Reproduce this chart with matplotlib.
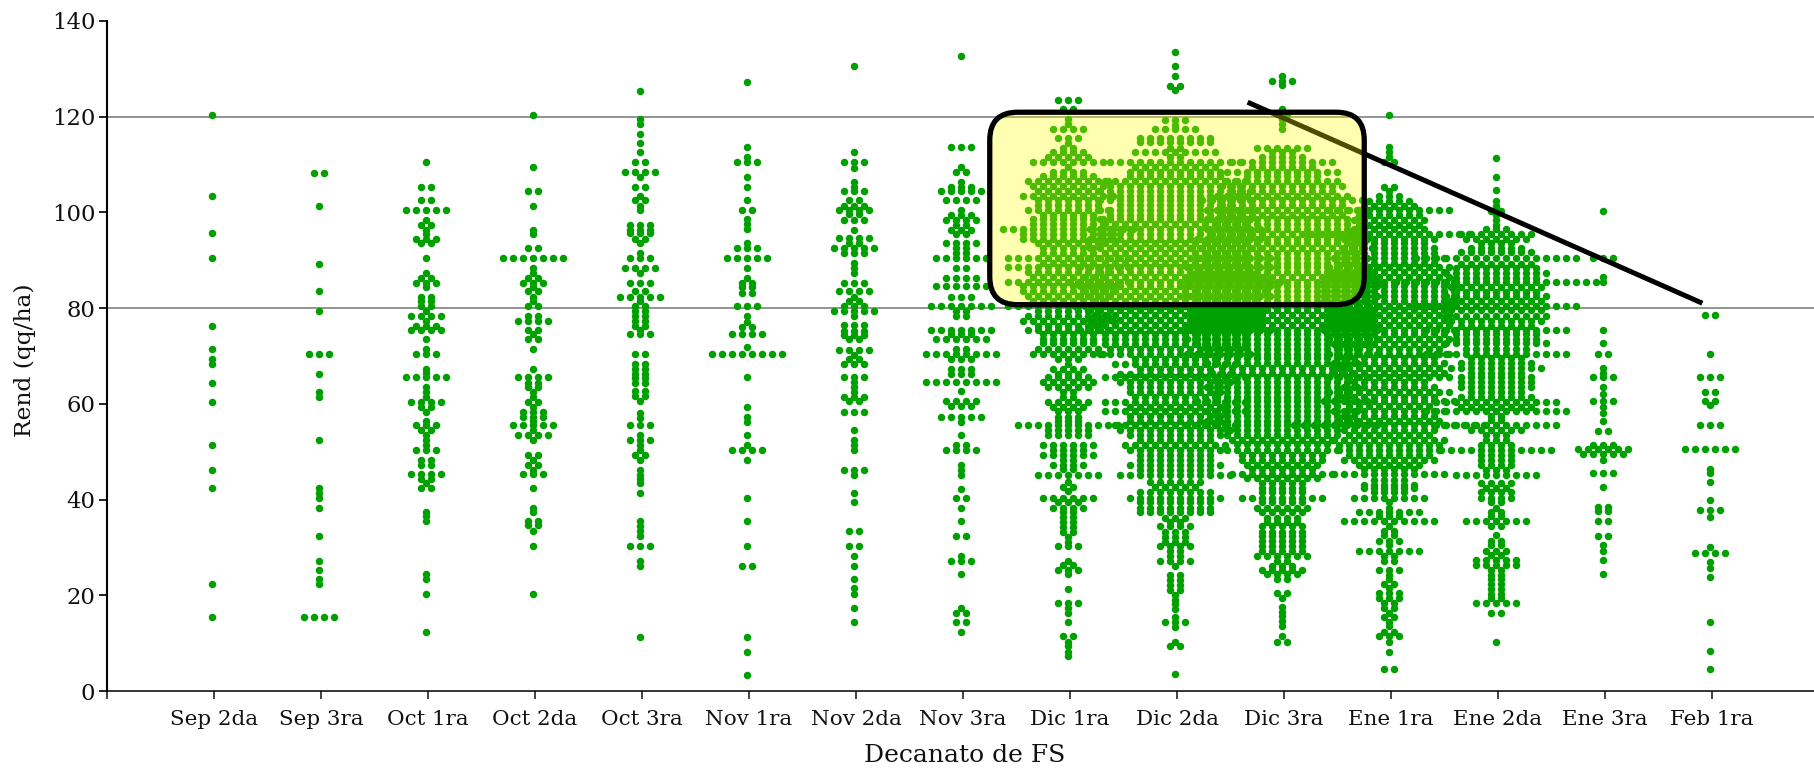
import matplotlib
matplotlib.use('Agg')
import matplotlib.pyplot as plt
from matplotlib.patches import FancyBboxPatch
import numpy as np

categories = ['Sep 2da', 'Sep 3ra', 'Oct 1ra', 'Oct 2da', 'Oct 3ra', 'Nov 1ra', 'Nov 2da', 'Nov 3ra',
              'Dic 1ra', 'Dic 2da', 'Dic 3ra', 'Ene 1ra', 'Ene 2da', 'Ene 3ra', 'Feb 1ra']
y_ticks = [0, 20, 40, 60, 80, 100, 120, 140]
grid_values = [80, 120]

# each decanato: yield rows and how many plots fall in each row
sep2_y = [120.4, 103.5, 95.6, 90.4, 76.3, 71.4, 69.4, 68.3, 64.4, 60.3, 51.4, 46.1, 42.4, 22.4, 15.4]
sep2_n = [1] * 15
sep3_y = [108.3, 101.4, 89.3, 83.5, 79.3, 70.4, 66.2, 62.5, 61.5, 52.4, 42.4, 41.4, 40.3, 38.2, 32.4, 27.2, 25.2, 23.3, 22.4, 15.4]
sep3_n = [2, 1, 1, 1, 1, 3, 1, 1, 1, 1, 1, 1, 1, 1, 1, 1, 1, 1, 1, 4]
oct1_y = [110.4, 105.3, 102.5, 100.4, 98.3, 97.3, 96.3, 95.5, 94.5, 93.5, 90.4, 87.4, 86.3, 85.3, 84.3, 82.4, 81.5, 80.5, 79.4, 78.3, 77.3, 76.3, 75.5, 73.5, 71.4, 70.4, 67.3, 66.5, 65.5, 63.4, 62.4, 61.4, 60.3, 59.3, 58.3, 56.5, 55.5, 54.5, 53.4, 52.4, 51.4, 50.4, 48.3, 47.3, 45.3, 44.3, 43.4, 42.4, 37.3, 36.5, 35.5, 24.5, 23.3, 20.3, 12.4]
oct1_n = [1, 2, 2, 5, 1, 2, 1, 1, 3, 2, 1, 1, 2, 3, 1, 2, 2, 2, 1, 4, 1, 3, 4, 1, 1, 3, 1, 1, 5, 1, 1, 1, 4, 2, 1, 1, 3, 2, 1, 1, 1, 3, 2, 2, 4, 2, 1, 2, 1, 1, 1, 1, 1, 1, 1]
oct2_y = [120.4, 109.4, 104.5, 101.4, 96.3, 95.5, 92.5, 90.4, 88.4, 87.4, 86.3, 85.3, 84.3, 83.5, 82.4, 81.5, 80.5, 78.3, 77.3, 75.5, 74.5, 73.5, 71.4, 67.3, 65.5, 64.4, 63.4, 62.4, 61.4, 60.3, 59.3, 58.3, 57.3, 56.5, 55.5, 54.5, 53.4, 52.4, 49.3, 48.3, 47.3, 46.2, 45.3, 42.4, 38.2, 37.3, 35.6, 34.6, 33.4, 30.3, 20.3]
oct2_n = [1, 1, 2, 1, 1, 1, 2, 7, 1, 1, 2, 3, 1, 2, 1, 1, 2, 2, 4, 2, 1, 2, 1, 1, 4, 2, 2, 1, 1, 2, 1, 3, 3, 1, 5, 1, 4, 1, 2, 1, 2, 1, 3, 1, 1, 1, 2, 2, 1, 1, 1]
oct3_y = [125.3, 119.4, 118.4, 116.4, 114.5, 112.5, 110.5, 108.4, 107.3, 105.3, 103.5, 102.5, 101.4, 100.4, 97.3, 96.4, 95.6, 94.5, 93.5, 91.5, 90.4, 88.4, 87.4, 85.3, 83.5, 82.4, 81.5, 80.5, 79.4, 78.4, 77.3, 76.3, 75.4, 74.5, 70.4, 68.3, 67.3, 66.3, 65.3, 64.3, 62.7, 61.7, 60.6, 58.1, 57.1, 55.5, 53.4, 52.4, 51.4, 50.4, 49.3, 48.3, 46.2, 45.2, 44.2, 43.4, 41.3, 35.5, 34.5, 33.4, 32.4, 30.3, 27.2, 26.2, 11.3]
oct3_n = [1, 1, 1, 1, 1, 1, 2, 4, 1, 2, 1, 2, 1, 1, 3, 3, 3, 2, 1, 1, 3, 4, 1, 3, 2, 5, 1, 2, 2, 2, 2, 2, 1, 3, 2, 2, 2, 2, 2, 2, 2, 2, 1, 1, 1, 3, 1, 3, 1, 1, 2, 1, 1, 1, 1, 1, 1, 1, 1, 1, 1, 3, 1, 1, 1]
nov1_y = [127.3, 113.6, 111.5, 110.5, 107.4, 105.3, 102.5, 100.4, 98.7, 97.6, 96.6, 93.5, 92.5, 90.4, 88.4, 86.3, 85.3, 84.3, 83.2, 80.5, 78.4, 77.1, 76.0, 74.5, 71.9, 70.4, 65.5, 59.3, 57.2, 56.2, 53.4, 51.4, 50.4, 48.3, 40.3, 35.5, 30.3, 26.2, 11.3, 8.2, 3.4]
nov1_n = [1, 1, 1, 3, 1, 1, 1, 2, 1, 1, 1, 1, 3, 5, 1, 1, 2, 2, 2, 3, 1, 1, 2, 4, 1, 8, 1, 1, 1, 1, 1, 1, 4, 1, 1, 1, 1, 2, 1, 1, 1]
nov2_y = [130.5, 112.5, 110.5, 109.3, 106.4, 105.3, 104.5, 102.5, 101.4, 100.4, 99.7, 98.4, 96.3, 94.7, 93.5, 92.5, 91.5, 89.4, 88.4, 87.4, 85.3, 83.5, 82.4, 81.5, 80.5, 79.4, 78.4, 76.4, 75.3, 74.3, 73.5, 71.2, 70.2, 69.4, 68.3, 65.5, 64.5, 63.5, 62.4, 61.4, 60.6, 58.3, 54.5, 52.4, 51.4, 50.4, 46.2, 45.2, 41.3, 39.4, 33.4, 30.3, 28.3, 26.2, 23.3, 21.6, 20.3, 17.3, 14.4]
nov2_n = [1, 1, 3, 1, 1, 1, 3, 2, 3, 4, 2, 3, 1, 4, 2, 5, 3, 1, 1, 1, 3, 4, 1, 2, 3, 5, 1, 3, 3, 3, 2, 4, 1, 2, 3, 3, 1, 1, 1, 3, 2, 3, 1, 1, 1, 1, 3, 1, 1, 1, 2, 2, 1, 1, 1, 1, 1, 1, 1]
nov3_y = [132.6, 113.6, 109.4, 108.4, 106.4, 105.3, 104.5, 102.5, 100.4, 99.4, 98.4, 97.3, 96.3, 95.5, 93.5, 92.5, 91.5, 90.4, 88.4, 86.3, 84.5, 82.4, 80.5, 79.4, 78.4, 75.5, 74.5, 73.5, 71.4, 70.4, 69.4, 67.3, 66.3, 64.5, 62.7, 60.6, 59.6, 57.2, 56.2, 53.4, 51.4, 50.4, 47.3, 46.2, 45.2, 42.3, 40.3, 38.2, 35.5, 32.4, 28.3, 27.2, 24.5, 17.3, 16.2, 14.4, 12.3]
nov3_n = [1, 3, 1, 2, 1, 3, 5, 4, 1, 3, 4, 2, 3, 2, 4, 2, 2, 6, 2, 4, 6, 3, 7, 2, 2, 7, 3, 6, 2, 8, 3, 3, 3, 8, 1, 4, 3, 5, 1, 1, 2, 4, 1, 1, 1, 1, 2, 1, 1, 2, 1, 3, 1, 1, 2, 2, 1]
dic1_y = [123.5, 121.5, 119.5, 118.5, 117.5, 115.5, 114.5, 113.5, 112.5, 111.5, 110.5, 109.5, 108.5, 107.5, 106.5, 105.5, 104.5, 103.5, 102.5, 101.5, 100.5, 99.5, 98.5, 97.5, 96.5, 95.5, 94.5, 93.5, 92.5, 91.5, 90.5, 89.5, 88.5, 87.5, 86.5, 85.5, 84.5, 83.5, 82.5, 81.5, 80.4, 79.4, 78.4, 77.3, 76.3, 75.5, 74.6, 73.6, 72.6, 71.5, 70.4, 69.3, 68.3, 67.3, 66.3, 65.5, 64.5, 63.5, 62.4, 61.4, 60.4, 59.3, 58.4, 57.3, 56.3, 55.5, 54.5, 53.5, 51.4, 50.4, 49.3, 48.3, 47.3, 46.3, 45.2, 43.7, 42.7, 41.7, 40.4, 39.4, 38.3, 37.3, 36.3, 35.3, 34.3, 33.3, 32.2, 31.2, 30.3, 27.2, 26.3, 25.2, 24.5, 21.4, 18.3, 17.3, 16.3, 14.4, 11.4, 10.3, 9.3, 8.2, 7.3]
dic1_n = [3, 2, 1, 1, 4, 3, 1, 2, 4, 5, 8, 1, 4, 6, 9, 8, 7, 10, 7, 7, 9, 6, 8, 8, 14, 10, 10, 7, 6, 6, 13, 6, 13, 9, 8, 13, 10, 10, 9, 8, 13, 7, 9, 10, 7, 9, 6, 6, 6, 7, 8, 3, 1, 4, 3, 5, 6, 5, 2, 2, 5, 4, 3, 3, 3, 11, 5, 5, 6, 4, 6, 2, 4, 2, 7, 1, 2, 1, 6, 3, 4, 2, 2, 2, 2, 2, 1, 1, 3, 1, 2, 3, 1, 1, 3, 1, 1, 1, 2, 1, 1, 1, 1]
dic2_y = [133.5, 130.5, 128.4, 126.4, 125.5, 119.3, 118.3, 117.3, 115.6, 114.6, 113.5, 112.5, 111.5, 110.4, 109.4, 108.5, 107.5, 106.5, 105.4, 104.4, 103.5, 102.5, 101.5, 100.5, 99.5, 98.5, 97.5, 96.5, 95.5, 94.5, 93.5, 92.5, 91.5, 90.5, 89.5, 88.5, 87.5, 86.5, 85.5, 84.5, 83.5, 82.5, 81.5, 80.5, 79.5, 78.5, 77.5, 76.5, 75.5, 74.5, 73.5, 72.5, 71.5, 70.4, 69.4, 68.4, 67.3, 66.3, 65.5, 64.5, 63.5, 62.4, 61.5, 60.4, 59.4, 58.4, 57.4, 56.4, 55.5, 54.5, 53.5, 52.4, 51.4, 50.4, 49.3, 48.3, 47.3, 46.2, 45.2, 43.7, 42.7, 41.5, 40.4, 39.4, 38.3, 37.3, 36.2, 35.2, 34.5, 33.3, 32.2, 31.2, 30.3, 29.3, 28.3, 27.2, 26.2, 24.2, 23.2, 22.2, 21.2, 20.1, 19.1, 18.1, 17.1, 15.5, 14.4, 13.4, 10.3, 9.3, 3.5]
dic2_n = [1, 1, 1, 2, 1, 3, 1, 5, 8, 8, 2, 9, 2, 14, 9, 10, 10, 15, 14, 16, 14, 16, 12, 16, 14, 16, 15, 18, 16, 18, 15, 18, 15, 20, 15, 20, 16, 19, 22, 20, 19, 20, 17, 21, 18, 17, 18, 17, 20, 15, 15, 15, 14, 16, 9, 13, 8, 12, 15, 12, 10, 10, 9, 15, 10, 15, 10, 10, 13, 12, 10, 8, 11, 10, 8, 8, 10, 8, 12, 6, 5, 8, 10, 8, 8, 8, 3, 2, 4, 3, 3, 3, 4, 2, 2, 4, 1, 2, 2, 2, 2, 1, 1, 1, 1, 1, 3, 1, 1, 2, 1]
dic3_y = [128.5, 127.5, 126.5, 121.5, 120.5, 119.5, 118.5, 117.5, 113.5, 112.5, 111.5, 110.5, 109.5, 108.5, 107.5, 106.5, 105.5, 104.5, 103.5, 102.5, 101.5, 100.5, 99.5, 98.5, 97.5, 96.5, 95.5, 94.5, 93.5, 92.5, 91.5, 90.5, 89.5, 88.5, 87.5, 86.5, 85.5, 84.5, 83.5, 82.5, 81.5, 80.5, 79.5, 78.5, 77.5, 76.5, 75.5, 74.5, 73.5, 72.5, 71.5, 70.5, 69.5, 68.5, 67.5, 66.5, 65.5, 64.5, 63.5, 62.5, 61.5, 60.5, 59.5, 58.5, 57.5, 56.5, 55.5, 54.5, 53.5, 52.5, 51.5, 50.4, 49.3, 48.3, 47.3, 46.3, 45.3, 44.4, 43.5, 42.5, 41.5, 40.4, 39.4, 38.3, 37.3, 36.2, 35.2, 34.4, 33.3, 32.3, 31.3, 30.3, 29.3, 28.3, 27.2, 26.2, 25.2, 24.5, 23.4, 20.4, 19.4, 17.6, 16.6, 15.6, 14.6, 13.5, 11.5, 10.3]
dic3_n = [1, 3, 1, 1, 2, 1, 1, 1, 6, 3, 5, 11, 7, 12, 8, 12, 13, 11, 14, 17, 13, 16, 13, 16, 14, 16, 15, 18, 16, 19, 16, 18, 16, 20, 18, 19, 20, 20, 18, 20, 18, 20, 18, 19, 18, 19, 20, 18, 20, 18, 16, 20, 14, 16, 13, 15, 18, 14, 16, 14, 14, 18, 12, 16, 14, 16, 20, 12, 12, 11, 10, 12, 9, 9, 8, 7, 11, 8, 5, 5, 5, 9, 5, 6, 5, 4, 4, 5, 5, 5, 5, 5, 5, 6, 2, 3, 5, 4, 2, 2, 1, 1, 1, 1, 1, 1, 1, 2]
ene1_y = [120.4, 113.6, 112.5, 111.5, 110.5, 105.3, 104.5, 103.4, 102.4, 101.4, 100.5, 99.4, 98.4, 97.3, 96.5, 95.5, 94.5, 93.5, 92.5, 91.5, 90.5, 89.5, 88.5, 87.5, 86.5, 85.5, 84.5, 83.5, 82.5, 81.5, 80.5, 79.5, 78.5, 77.5, 76.5, 75.5, 74.5, 73.5, 72.5, 71.5, 70.5, 69.5, 68.5, 67.5, 66.5, 65.5, 64.5, 63.5, 62.5, 61.5, 60.5, 59.5, 58.5, 57.5, 56.5, 55.5, 54.5, 53.5, 52.4, 51.4, 50.3, 49.3, 48.3, 47.3, 46.3, 45.3, 44.0, 43.0, 42.5, 41.5, 40.4, 39.4, 38.3, 37.3, 36.6, 35.5, 34.5, 33.5, 32.5, 31.4, 30.4, 29.3, 28.3, 27.2, 25.2, 24.3, 23.4, 22.4, 21.5, 20.4, 19.4, 18.3, 17.3, 16.2, 15.5, 14.5, 13.5, 12.4, 11.4, 10.3, 8.2, 4.5]
ene1_n = [1, 1, 1, 1, 2, 2, 1, 3, 5, 6, 13, 7, 8, 7, 8, 17, 10, 8, 10, 10, 12, 10, 13, 12, 13, 14, 14, 14, 14, 14, 13, 12, 13, 12, 13, 14, 12, 13, 12, 11, 13, 10, 12, 11, 12, 13, 8, 10, 13, 10, 14, 9, 12, 10, 11, 20, 10, 9, 12, 11, 11, 9, 10, 7, 6, 12, 4, 6, 6, 4, 8, 1, 1, 7, 3, 10, 1, 2, 2, 3, 1, 7, 2, 2, 3, 1, 1, 2, 1, 3, 3, 2, 2, 1, 2, 1, 1, 2, 3, 1, 1, 2]
ene2_y = [111.4, 107.4, 104.6, 102.4, 101.4, 100.3, 99.4, 98.4, 97.4, 96.5, 95.5, 94.5, 93.5, 92.5, 91.6, 90.4, 89.3, 88.3, 87.3, 86.3, 85.4, 84.4, 83.4, 82.5, 81.5, 80.4, 79.5, 78.3, 77.3, 76.3, 75.4, 74.5, 73.6, 72.6, 71.5, 70.5, 69.5, 68.5, 67.5, 66.5, 65.5, 64.5, 63.5, 62.5, 61.5, 60.4, 59.4, 58.4, 57.5, 56.6, 55.5, 54.5, 53.5, 52.4, 51.4, 50.4, 49.3, 48.2, 47.2, 46.2, 45.2, 43.5, 42.5, 41.5, 40.4, 39.4, 38.3, 37.3, 36.6, 35.5, 34.5, 32.5, 31.4, 30.4, 29.3, 28.4, 27.4, 26.3, 25.3, 24.3, 23.3, 22.3, 21.3, 20.3, 19.4, 18.3, 16.2, 10.3]
ene2_n = [1, 1, 1, 1, 1, 2, 1, 1, 1, 3, 8, 7, 4, 6, 8, 17, 8, 9, 11, 9, 21, 10, 9, 11, 10, 17, 10, 11, 10, 8, 15, 9, 9, 11, 7, 15, 6, 8, 10, 6, 8, 8, 8, 6, 8, 13, 8, 15, 2, 2, 13, 6, 3, 3, 4, 12, 4, 4, 4, 3, 9, 4, 3, 4, 4, 2, 1, 2, 2, 7, 2, 1, 2, 2, 3, 2, 5, 5, 2, 2, 2, 2, 2, 2, 2, 5, 2, 1]
ene3_y = [100.3, 90.4, 86.5, 85.5, 75.5, 72.6, 70.5, 67.5, 66.5, 65.5, 63.6, 62.1, 60.5, 59.4, 58.0, 56.5, 54.4, 51.4, 50.5, 49.5, 48.3, 45.5, 42.6, 38.5, 37.6, 35.5, 32.4, 30.5, 29.3, 27.3, 24.5]
ene3_n = [1, 3, 1, 1, 1, 1, 2, 1, 1, 3, 1, 1, 3, 1, 1, 1, 2, 3, 6, 5, 1, 3, 1, 2, 2, 2, 2, 1, 1, 1, 1]
feb1_y = [78.6, 70.5, 65.5, 62.5, 60.5, 59.7, 55.5, 50.5, 46.3, 45.5, 43.7, 39.9, 37.8, 36.3, 30.0, 28.8, 26.9, 25.6, 23.8, 14.5, 8.4, 4.5]
feb1_n = [2, 1, 3, 2, 2, 1, 3, 6, 1, 1, 1, 1, 3, 1, 1, 4, 1, 1, 1, 1, 1, 1]

all_y = [sep2_y, sep3_y, oct1_y, oct2_y, oct3_y, nov1_y, nov2_y, nov3_y, dic1_y, dic2_y, dic3_y, ene1_y, ene2_y, ene3_y, feb1_y]
all_n = [sep2_n, sep3_n, oct1_n, oct2_n, oct3_n, nov1_n, nov2_n, nov3_n, dic1_n, dic2_n, dic3_n, ene1_n, ene2_n, ene3_n, feb1_n]

W, H = 1814, 771
LEFT, BOTTOM, TOP = 107, 691, 20.8
STEP = 107.0   # px per category
DOT_GAP = 10.0 / STEP
GREEN = '#00a000'

plt.rcParams['font.family'] = ['DejaVu Serif']

fig = plt.figure(figsize=(W / 100, H / 100), dpi=100)
ax = fig.add_axes([LEFT / W, (H - BOTTOM) / H, 1 - LEFT / W, (BOTTOM - TOP) / H])
ax.set_xlim(0, (W - LEFT) / STEP)
ax.set_ylim(0, 140)

for v in grid_values:
    ax.axhline(v, color='#808080', lw=1.2, zorder=1)

# rows are laid out side by side around the category centre
for i, (ys, ns) in enumerate(zip(all_y, all_n)):
    xs, vals = [], []
    for y, n in zip(ys, ns):
        off = (np.arange(n) - (n - 1) / 2) * DOT_GAP
        xs.extend(i + 1 - 0.015 + off)
        vals.extend([y] * n)
    ax.scatter(xs, vals, s=29, color=GREEN, linewidths=0, zorder=2, clip_on=False)

ax.plot([10.66, 14.91], [123, 81], color='black', lw=3.6, solid_capstyle='butt', zorder=3)

box = FancyBboxPatch((8.25, 80.7), 3.50, 40.2, boxstyle='round,pad=0,rounding_size=0.26', mutation_aspect=22.4,
                     facecolor=(1, 1, 0, 0.3), edgecolor='black', lw=3.8, zorder=4)
ax.add_patch(box)

ax.spines['top'].set_visible(False)
ax.spines['right'].set_visible(False)
ax.spines['left'].set_linewidth(1.5)
ax.spines['bottom'].set_linewidth(1.1)
ax.set_yticks(y_ticks)
ax.set_xticks(range(0, len(categories) + 1))
ax.set_xticklabels([''] + categories)
ax.tick_params(axis='y', length=5.5, width=1.3, labelsize=16.4, pad=3, colors='#111111')
ax.tick_params(axis='x', length=5.5, width=1.1, labelsize=15.4, pad=8, colors='#111111')

fig.text(25 / W, 1 - 360 / H, 'Rend (qq/ha)', rotation=90, ha='center', va='center', fontsize=16.8, color='#111111')
fig.text(965 / W, 1 - 755 / H, 'Decanato de FS', ha='center', va='center', fontsize=18, color='#111111')

fig.savefig('out.png', dpi=100)
